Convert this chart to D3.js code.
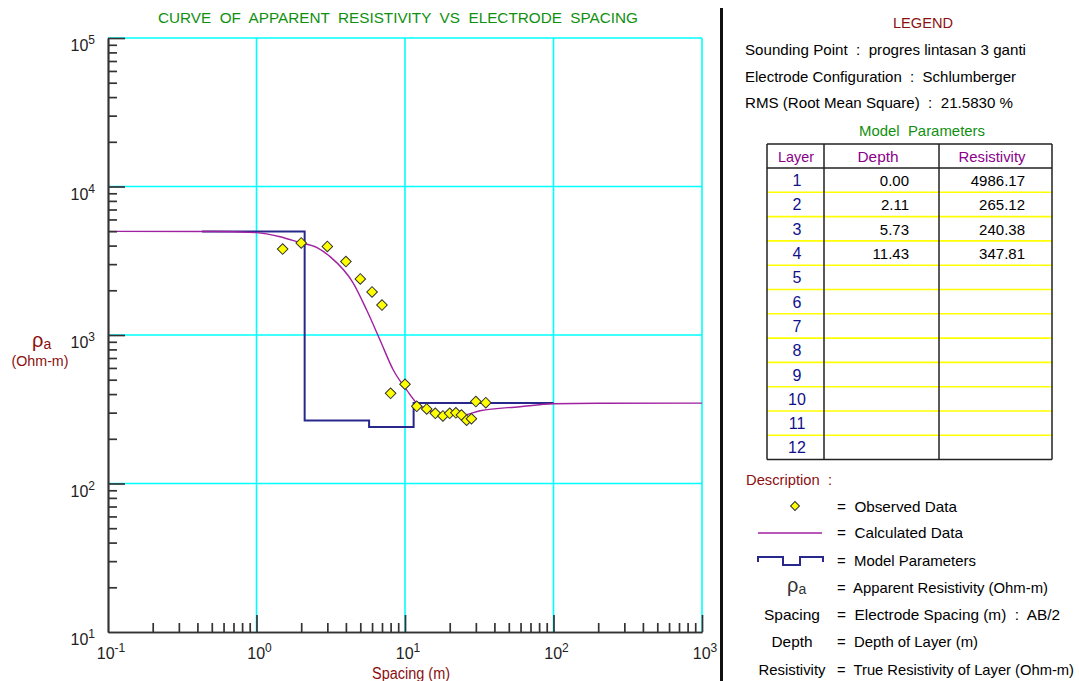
<!DOCTYPE html>
<html>
<head>
<meta charset="utf-8">
<script src="https://cdn.jsdelivr.net/npm/d3@7"></script>
<style>
  body { margin: 0; background: #fff; }
  svg { display: block; font-family: "Liberation Sans", Arial, sans-serif; }
  svg text { white-space: pre; }
</style>
</head>
<body>
<script>
// ---- data ----
var obsSpacing = [1.5, 2, 3, 4, 5, 6, 7, 8, 10, 12, 14, 16, 18, 20, 22, 24, 26, 28, 30, 35];
var obsRho     = [3790, 4170, 3950, 3120, 2385, 1950, 1590, 405, 466, 331, 318, 297, 285, 297, 299, 289, 267, 273, 356, 350];

var calcSpacing = [0.1, 0.5, 1.0, 1.44, 1.96, 2.54, 3.13, 4.49, 5.52, 6.79, 8.34, 10.25, 12, 14.7, 19.1, 24.7, 32, 59.4, 100, 200, 1000];
var calcRho     = [4986, 4975, 4890, 4590, 4190, 3890, 3370, 2230, 1472, 925, 581, 427, 347, 309, 289, 289, 309, 329, 344, 347, 347.8];

var layerNo    = [1, 2, 3, 4, 5, 6, 7, 8, 9, 10, 11, 12];
var layerDepth = [0.00, 2.11, 5.73, 11.43];
var layerRes   = [4986.17, 265.12, 240.38, 347.81];
var modelRange = [0.43, 100];

var xDecades = [-1, 0, 1, 2, 3];
var yDecades = [1, 2, 3, 4, 5];

var legendLines = [
  "Sounding Point  :  progres lintasan 3 ganti",
  "Electrode Configuration  :  Schlumberger",
  "RMS (Root Mean Square)  :  21.5830 %"
];
var descKeys  = ["", "", "", "", "Spacing", "Depth", "Resistivity"];
var descTexts = ["=  Observed Data", "=  Calculated Data", "=  Model Parameters",
  "=  Apparent Resistivity (Ohm-m)", "=  Electrode Spacing (m)  :  AB/2",
  "=  Depth of Layer (m)", "=  True Resistivity of Layer (Ohm-m)"];

// ---- colours ----
var GRID = "#00ffff", AXIS = "#333", CALC = "#a020a0", MODEL = "#28288c",
    DARKRED = "#8b1010", GREEN = "#109010", PURPLE = "#8b008b", NAVY = "#10108b";

var svg = d3.select("body").append("svg").attr("width", 1079).attr("height", 681);

var x = d3.scaleLog().domain([0.1, 1000]).range([108, 702]);
var y = d3.scaleLog().domain([10, 1e5]).range([632, 38]);

function txt(g, px, py, s, o) {
  o = o || {};
  var t = g.append("text").attr("x", px).attr("y", py).text(s)
    .attr("font-size", o.size || 14)
    .attr("fill", o.fill || "#000")
    .attr("text-anchor", o.anchor || "start");
  if (o.len) t.attr("textLength", o.len).attr("lengthAdjust", "spacingAndGlyphs");
  return t;
}

// title
txt(svg, 398, 23, "CURVE  OF  APPARENT  RESISTIVITY  VS  ELECTRODE  SPACING",
  {size: 15, fill: GREEN, anchor: "middle", len: 480});

// grid
var grid = svg.append("g").attr("stroke", GRID).attr("stroke-width", 1.6);
grid.selectAll(".gv").data([1, 10, 100, 1000]).join("line")
  .attr("x1", d => x(d)).attr("x2", d => x(d)).attr("y1", y(1e5)).attr("y2", y(10));
grid.selectAll(".gh").data([100, 1000, 1e4, 1e5]).join("line")
  .attr("y1", d => y(d)).attr("y2", d => y(d)).attr("x1", x(0.1)).attr("x2", x(1000));

// model parameter step line
var modelPts = [[modelRange[0], layerRes[0]]];
for (var i = 1; i < layerDepth.length; i++) modelPts.push([layerDepth[i], layerRes[i]]);
modelPts.push([modelRange[1], layerRes[layerRes.length - 1]]);
svg.append("path").datum(modelPts)
  .attr("d", d3.line().x(d => x(d[0])).y(d => y(d[1])).curve(d3.curveStepAfter))
  .attr("fill", "none").attr("stroke", MODEL).attr("stroke-width", 2);

// calculated curve
svg.append("path").datum(d3.zip(calcSpacing, calcRho))
  .attr("d", d3.line().x(d => x(d[0])).y(d => y(d[1])).curve(d3.curveMonotoneX))
  .attr("fill", "none").attr("stroke", CALC).attr("stroke-width", 1.4);

// observed points
var diamond = d3.symbol(d3.symbolSquare, 56)();
svg.append("g").selectAll("path").data(d3.zip(obsSpacing, obsRho)).join("path")
  .attr("d", diamond)
  .attr("transform", d => "translate(" + x(d[0]) + "," + y(d[1]) + ") rotate(45)")
  .attr("fill", "#ffff00").attr("stroke", "#333").attr("stroke-width", 1);

// axes
function minorVals(decs) {
  var v = [];
  decs.slice(0, -1).forEach(function (e) { for (var k = 2; k <= 9; k++) v.push(k * Math.pow(10, e)); });
  return v;
}
var xMajor = xDecades.map(e => Math.pow(10, e));
var yMajor = yDecades.map(e => Math.pow(10, e));

function styleAxis(g) {
  g.selectAll("path,line").attr("stroke", AXIS).attr("stroke-width", 1.7);
  g.selectAll("text").remove();
}
svg.append("g").attr("transform", "translate(0,632)")
  .call(d3.axisBottom(x).tickValues(minorVals(xDecades)).tickSizeInner(-9).tickSizeOuter(0)).call(styleAxis);
svg.append("g").attr("transform", "translate(0,632)")
  .call(d3.axisBottom(x).tickValues(xMajor.slice(1)).tickSizeInner(-17).tickSizeOuter(0)).call(styleAxis);
svg.append("g").attr("transform", "translate(108,0)")
  .call(d3.axisLeft(y).tickValues(minorVals(yDecades)).tickSizeInner(-9).tickSizeOuter(0)).call(styleAxis);
svg.append("g").attr("transform", "translate(108,0)")
  .call(d3.axisLeft(y).tickValues(yMajor.slice(1)).tickSizeInner(-17).tickSizeOuter(0)).call(styleAxis);

// tick labels 10^n
svg.append("g").selectAll("text").data(xDecades).join("text")
  .attr("x", d => x(Math.pow(10, d)) + 3).attr("y", 659)
  .attr("text-anchor", "middle").attr("font-size", 16).attr("fill", "#222")
  .each(function (d) {
    var t = d3.select(this);
    t.append("tspan").text("10");
    t.append("tspan").attr("dy", -7).attr("font-size", 12).text(d);
  });
svg.append("g").selectAll("text").data(yDecades).join("text")
  .attr("x", 95).attr("y", d => y(Math.pow(10, d)) + 13)
  .attr("text-anchor", "end").attr("font-size", 16).attr("fill", "#222")
  .each(function (d) {
    var t = d3.select(this);
    t.append("tspan").text("10");
    t.append("tspan").attr("dy", -7).attr("font-size", 12).text(d);
  });

// axis titles
txt(svg, 411, 679, "Spacing (m)", {size: 16, fill: DARKRED, anchor: "middle", len: 78});
var rl = txt(svg, 32, 347, "", {size: 20, fill: DARKRED});
rl.append("tspan").text("ρ");
rl.append("tspan").attr("font-size", 14).attr("dy", 2).text("a");
txt(svg, 40, 366, "(Ohm-m)", {size: 14, fill: DARKRED, anchor: "middle", len: 57});

// divider
svg.append("rect").attr("x", 720).attr("y", 8).attr("width", 3).attr("height", 673).attr("fill", "#111");

// legend
txt(svg, 923, 28, "LEGEND", {size: 15, fill: DARKRED, anchor: "middle", len: 60});
var legLens = [281, 271, 268];
legendLines.forEach(function (s, i) { txt(svg, 745, 55 + i * 26.7, s, {size: 15, len: legLens[i]}); });
txt(svg, 922, 136, "Model  Parameters", {size: 15, fill: GREEN, anchor: "middle", len: 126});

// model parameter table
var cols = [767, 824, 939, 1052], tableTop = 144, headH = 24, rowH = 24.3;
var tb = svg.append("g");
var rowY = d => tableTop + headH + rowH * (d - 1);
tb.selectAll(".yl").data(layerNo.slice(1)).join("line")
  .attr("x1", cols[0]).attr("x2", cols[3]).attr("y1", d => rowY(d)).attr("y2", d => rowY(d))
  .attr("stroke", "#ffff00").attr("stroke-width", 1.6);
var tableBottom = rowY(layerNo.length + 1);
tb.selectAll(".hl").data([tableTop, tableTop + headH, tableBottom]).join("line")
  .attr("x1", cols[0]).attr("x2", cols[3]).attr("y1", d => d).attr("y2", d => d)
  .attr("stroke", "#222").attr("stroke-width", 1.5);
tb.selectAll(".vl").data(cols).join("line")
  .attr("x1", d => d).attr("x2", d => d).attr("y1", tableTop).attr("y2", tableBottom)
  .attr("stroke", "#222").attr("stroke-width", 1.5);
txt(tb, 796, 162, "Layer", {size: 15, fill: PURPLE, anchor: "middle", len: 36});
txt(tb, 878, 162, "Depth", {size: 15, fill: PURPLE, anchor: "middle", len: 41});
txt(tb, 992, 162, "Resistivity", {size: 15, fill: PURPLE, anchor: "middle", len: 67});
layerNo.forEach(function (n) {
  var by = rowY(n) + rowH / 2 + 6;
  txt(tb, 797, by, String(n), {size: 16, fill: NAVY, anchor: "middle"});
  if (n <= layerDepth.length) {
    txt(tb, 909, by, layerDepth[n - 1].toFixed(2), {size: 15, anchor: "end"});
    txt(tb, 1025, by, layerRes[n - 1].toFixed(2), {size: 15, anchor: "end"});
  }
});

// description
txt(svg, 746, 485, "Description  :", {size: 15, fill: DARKRED, len: 86});
var descY = [512, 538, 566, 593, 620, 647, 675];
var descLens = [120, 126, 139, 211, 223, 141, 237];
var keyLens = [0, 0, 0, 0, 56, 41, 67];
descTexts.forEach(function (s, i) {
  txt(svg, 837, descY[i], s, {size: 15, len: descLens[i]});
  if (descKeys[i]) txt(svg, 792, descY[i], descKeys[i], {size: 15, anchor: "middle", len: keyLens[i]});
});
svg.append("path").attr("d", d3.symbol(d3.symbolSquare, 40)())
  .attr("transform", "translate(795,506) rotate(45)")
  .attr("fill", "#ffff00").attr("stroke", "#333").attr("stroke-width", 1);
svg.append("line").attr("x1", 758).attr("x2", 822).attr("y1", 533).attr("y2", 533)
  .attr("stroke", CALC).attr("stroke-width", 1.4);
svg.append("path").attr("d", "M758,562V557H783V565H800V557H823V562")
  .attr("fill", "none").attr("stroke", MODEL).attr("stroke-width", 2);
var rs = txt(svg, 787, 592, "", {size: 20, fill: "#333"});
rs.append("tspan").text("ρ");
rs.append("tspan").attr("font-size", 14).attr("dy", 2).text("a");
</script>
</body>
</html>
